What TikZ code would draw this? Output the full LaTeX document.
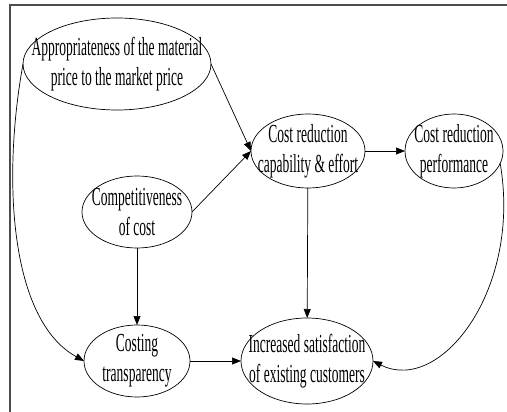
\documentclass[tikz,border=0pt]{standalone}
\usepackage{fontspec}
\setmainfont[FakeStretch=0.52]{Liberation Serif}
\usetikzlibrary{positioning,arrows.meta,shapes.geometric}

\begin{document}
\begin{tikzpicture}[x=1pt,y=-1pt,>={Triangle[length=9pt,width=7pt]},
  factor/.style={draw,ellipse,inner sep=-40pt,outer sep=0pt,align=center,line width=0.7pt,font=\fontsize{26}{30}\selectfont},
  link/.style={->,line width=0.7pt}]
\useasboundingbox (0,0) rectangle (507,412);
\draw[black!70,line width=1.6pt] (10,412) -- (10,5) -- (507,5);
\node[factor,minimum width=188pt,minimum height=92pt] (appr) at (117,64) {Appropriateness of the material\\price to the market price};
\node[factor,minimum width=114pt,minimum height=74pt] (capab) at (308,151) {Cost reduction\\capability \& effort};
\node[factor,minimum width=98pt,minimum height=74pt] (perf) at (454,151) {Cost reduction\\performance};
\node[factor,minimum width=110pt,minimum height=72pt] (compet) at (137,212) {Competitiveness\\of cost};
\node[factor,minimum width=106pt,minimum height=72pt] (transp) at (137,361) {Costing\\transparency};
\node[factor,minimum width=132pt,minimum height=86pt] (satisf) at (307,361) {Increased satisfaction\\of existing customers};
\draw[link] (appr.east) -- (capab.west);
\draw[link] (compet.east) -- (capab.west);
\draw[link] (capab) -- (perf);
\draw[link] (capab) -- (satisf);
\draw[link] (compet) -- (transp);
\draw[link] (transp) -- (satisf);
\draw[link] (appr.west) .. controls (2,180) and (10,320) .. (transp.west);
\draw[link] (perf.-15) .. controls (522,290) and (440,395) .. (satisf.east);
\end{tikzpicture}
\end{document}
